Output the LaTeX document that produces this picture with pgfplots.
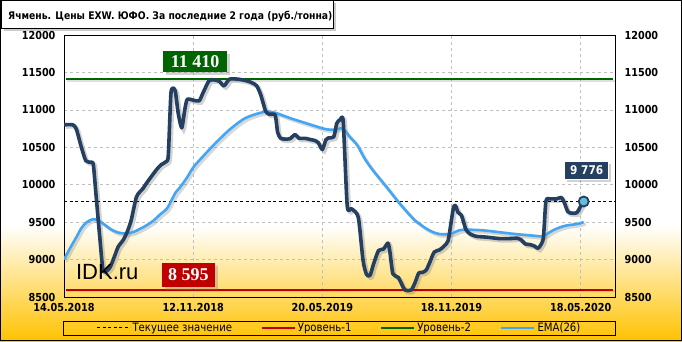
\documentclass[border=0pt]{standalone}
\usepackage{pgfplots}
\pgfplotsset{compat=1.18}
\usepackage{pgfplotstable}
\usepackage{fontspec}
\setmainfont{DejaVu Sans}
\newfontfamily\tah[FakeStretch=0.88]{DejaVu Sans}
\newfontfamily\tahb[FakeStretch=0.88]{DejaVu Sans Bold}
\newfontfamily\serifb{Liberation Serif Bold}
\newfontfamily\arial{Liberation Sans}
\usetikzlibrary{shadows}
\definecolor{navy}{RGB}{36,63,96}
\definecolor{ema}{RGB}{66,165,245}
\definecolor{lvlgreen}{RGB}{0,100,0}
\definecolor{lvlred}{RGB}{192,0,0}
\definecolor{gold}{RGB}{255,194,0}
\definecolor{goldmid}{RGB}{255,232,150}
\definecolor{mk}{RGB}{100,190,215}

\pgfplotstableread{
x y
0 10800
1.8 10800
2.5 10740
3.5 10500
4.4 10320
5.4 10300
5.9 10270
6.4 9900
7.2 9300
7.9 8850
9.2 8890
10.2 9050
10.9 9170
11.9 9260
12.6 9350
13.5 9520
14.6 9840
15.9 9950
16.6 10020
18.6 10200
19.6 10270
20.6 10310
21.0 10400
21.5 11200
21.9 11290
22.4 11250
23.0 10950
23.7 10760
24.3 11000
24.8 11140
26.0 11130
27.2 11120
28.0 11230
29.2 11390
30.3 11400
31.3 11380
32.2 11320
33.3 11410
35.0 11410
36.7 11390
37.9 11360
38.8 11320
39.6 11200
40.6 10980
41.4 10940
42.5 10930
43.0 10700
43.6 10620
44.5 10610
45.5 10615
46.5 10670
47.3 10620
48.5 10620
49.5 10605
50.5 10590
51.2 10560
52.0 10470
52.7 10600
53.2 10625
54.3 10640
54.9 10820
55.6 10870
56.2 10840
57.0 9720
57.8 9680
58.6 9640
59.3 9540
60.2 8985
60.9 8800
61.6 8790
62.3 8940
63.3 9120
64.3 9140
65.2 9220
65.6 9100
66.2 8810
67.3 8760
68.6 8595
69.9 8595
70.7 8700
71.4 8820
72.2 8830
72.9 8860
73.6 8960
74.5 9100
75.6 9130
76.5 9180
77.3 9250
77.8 9450
78.4 9700
78.8 9720
79.3 9630
80.0 9590
80.9 9400
81.8 9340
83.0 9310
85.0 9300
87.7 9280
89.5 9280
91.3 9285
92.0 9265
92.8 9210
93.8 9200
94.7 9180
95.4 9150
96.0 9200
96.5 9300
97.0 9780
97.8 9810
99.1 9810
100.1 9830
100.7 9760
101.4 9640
102.2 9620
103.2 9625
103.8 9690
104.6 9776
}\mainT

\pgfplotstableread{
x y
0 9000
1.2 9150
2.5 9300
3.5 9420
4.6 9500
5.9 9540
7.0 9520
8.1 9470
9.3 9410
10.5 9370
11.8 9350
13.3 9355
14.4 9380
15.3 9410
16.7 9460
18.0 9520
19.3 9600
20.7 9680
21.7 9800
22.5 9900
23.3 9960
24.7 10090
26.0 10230
27.3 10330
28.0 10380
30.7 10570
33.4 10740
36.1 10875
38.0 10930
39.5 10960
40.5 10975
41.4 10975
42.8 10955
45.5 10890
48.8 10820
52.2 10750
53.5 10735
54.2 10735
55.5 10750
56.2 10750
57.5 10640
59.0 10530
60.5 10350
62.2 10190
64.9 9970
67.6 9745
70.3 9545
71.5 9480
73.0 9410
74.5 9360
75.6 9340
77.7 9340
78.5 9360
79.5 9390
81.0 9400
84.4 9390
87.7 9365
91.0 9340
94.4 9320
96.4 9310
97.4 9350
98.4 9390
99.8 9430
101.1 9455
103.2 9475
104.6 9500
}\emaT

\begin{document}
\begin{tikzpicture}
\useasboundingbox (0,0) rectangle (682pt,341pt);
\fill[white] (0,0) rectangle (682pt,341pt);
\shade[top color=white, middle color=goldmid, bottom color=gold] (0,0) rectangle (682pt,116pt);

\begin{axis}[
  at={(64pt,44pt)}, anchor=south west,
  width=551pt, height=262pt, scale only axis,
  xmin=0, xmax=110.9, ymin=8500, ymax=12000,
  xtick={0,26,52,78,104},
  xticklabels={14.05.2018,12.11.2018,20.05.2019,18.11.2019,18.05.2020},
  ytick={8500,9000,...,12000},
  scaled y ticks=false,
  yticklabel={\pgfmathprintnumber[fixed,precision=0,1000 sep={}]{\tick}},
  major tick length=0pt,
  grid=major, grid style={dashed, black!25, line width=0.6pt},
  axis line style={black, line width=0.8pt},
  tick label style={font=\tahb\fontsize{11}{13}\selectfont},
  yticklabel style={xshift=-5pt},
  xticklabel style={yshift=-2.5pt},
  /pgf/number format/assume math mode=true,
  clip mode=individual,
  legend style={at={(0.5,-0.118)}, anchor=center, draw=none, fill=none,
    font=\tah\fontsize{11.5}{12}\selectfont, inner sep=0pt,
    /tikz/every even column/.append style={column sep=27pt}},
  legend columns=4,
  legend image code/.code={\draw[#1] (0pt,0pt) -- (33pt,0pt);},
]
\addplot[gray, opacity=0.25, line width=2pt, xshift=1.5pt, yshift=-1.5pt, forget plot] coordinates {(0.4,8595) (110.5,8595)};
\addplot[gray, opacity=0.25, line width=2pt, xshift=1.5pt, yshift=-1.5pt, forget plot] coordinates {(0.4,11410) (110.5,11410)};
\addplot[gray, opacity=0.3, line width=3pt, smooth, xshift=2pt, yshift=-2pt, forget plot] table {\emaT};
\addplot[gray, opacity=0.35, line width=4pt, smooth, tension=0.4, xshift=2pt, yshift=-2pt, forget plot] table {\mainT};

\addplot[black, line width=0.9pt, dash pattern=on 3pt off 2.5pt] coordinates {(0,9776) (110.9,9776)};
\addlegendentry{Текущее значение}
\addplot[lvlred, line width=1.8pt] coordinates {(0.4,8595) (110.5,8595)};
\addlegendentry{Уровень-1}
\addplot[lvlgreen, line width=1.8pt] coordinates {(0.4,11410) (110.5,11410)};
\addlegendentry{Уровень-2}
\addplot[ema, line width=2.6pt, smooth] table {\emaT};
\addlegendentry{EMA(26)}
\addplot[navy, line width=3.6pt, smooth, tension=0.4, line join=round, forget plot] table {\mainT};
\addplot[only marks, mark=*, mark size=5pt, mark options={fill=mk, draw=navy, line width=1.8pt}, forget plot] coordinates {(104.6,9776)};

\node[fill=lvlgreen, text=white, font=\serifb\fontsize{18}{18}\selectfont, inner sep=0pt, minimum width=64pt, minimum height=21pt, drop shadow={opacity=0.35}] at (axis cs:26.4,11645) {11 410};
\node[fill=lvlred, text=white, font=\serifb\fontsize{18}{18}\selectfont, inner sep=0pt, minimum width=53pt, minimum height=24pt, drop shadow={opacity=0.35}] at (axis cs:25.05,8797) {8 595};
\node[fill=navy, draw=navy, double=white, double distance=0.7pt, text=white, font=\tahb\fontsize{12}{12}\selectfont, inner sep=0pt, minimum width=44pt, minimum height=18pt, drop shadow={opacity=0.35}] at (axis cs:105.2,10191) {9 776};
\node[anchor=base west, font=\arial\fontsize{22}{22}\selectfont, inner sep=0pt] at (axis cs:2.4,8730) {IDK.ru};
\end{axis}

\begin{axis}[
  at={(64pt,44pt)}, anchor=south west,
  width=551pt, height=262pt, scale only axis,
  xmin=0, xmax=110.9, ymin=8500, ymax=12000,
  xtick=\empty, ytick={8500,9000,...,12000},
  scaled y ticks=false,
  yticklabel={\pgfmathprintnumber[fixed,precision=0,1000 sep={}]{\tick}},
  yticklabel pos=right,
  major tick length=0pt,
  axis line style={draw=none},
  tick label style={font=\tahb\fontsize{11}{13}\selectfont},
  yticklabel style={xshift=6pt},
  /pgf/number format/assume math mode=true,
]
\addplot[draw=none, forget plot] coordinates {(1,9000)};
\end{axis}

\draw[black, line width=0.8pt] (63pt,6pt) rectangle (615pt,20pt);

\path[draw=black, line width=0.8pt, fill=white, drop shadow={opacity=0.4, shadow xshift=3pt, shadow yshift=-3pt}] (1pt,313pt) rectangle (333pt,340.5pt);
\node[anchor=base west, inner sep=0pt, font=\tahb\fontsize{10.5}{12}\selectfont] at (8pt,321pt) {Ячмень. Цены EXW. ЮФО. За последние 2 года (руб./тонна)};

\draw[black, line width=1pt] (0.5pt,0.5pt) rectangle (681.5pt,340.5pt);
\end{tikzpicture}
\end{document}
